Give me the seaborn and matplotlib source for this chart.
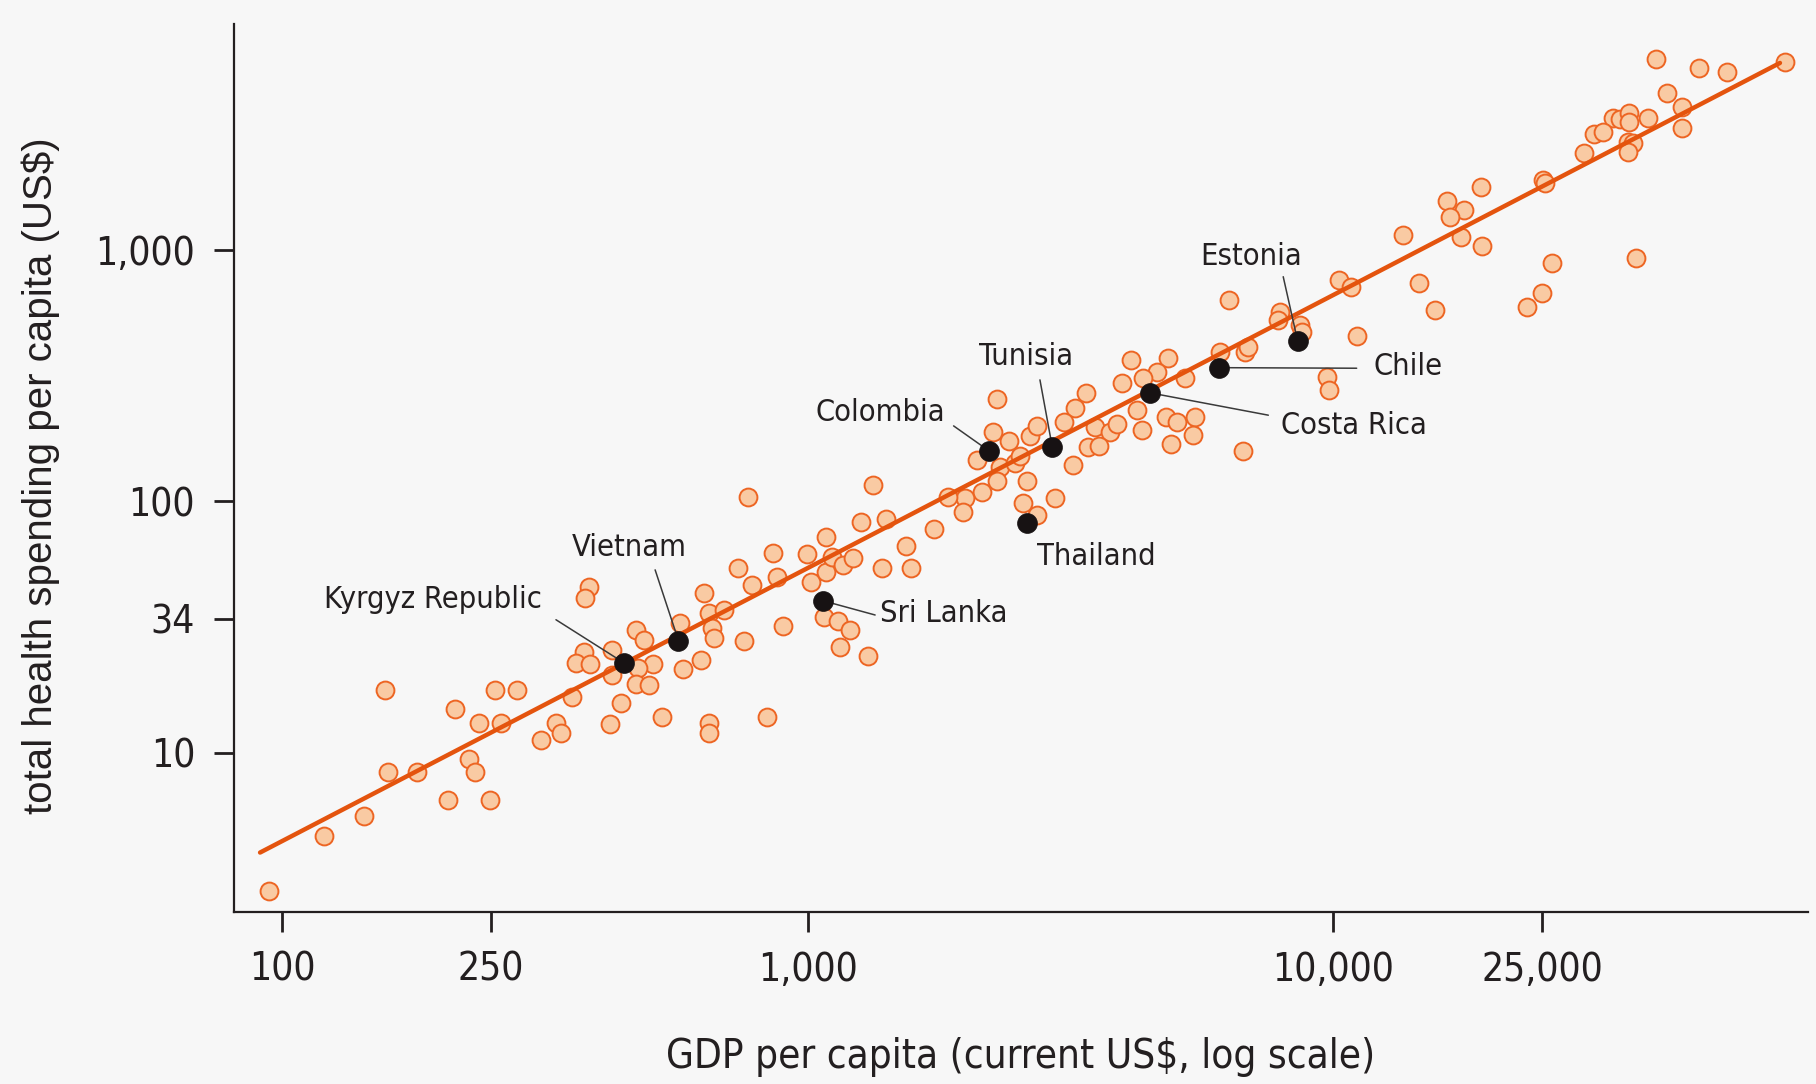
import matplotlib
matplotlib.use("Agg")
import matplotlib.pyplot as plt
from matplotlib import font_manager as fm
from matplotlib.ticker import NullLocator, FixedLocator, FixedFormatter
import pandas as pd
import seaborn as sns

# ---------------------------------------------------------------------------
# Data: GDP per capita (current US$) vs total health spending per capita (US$)
# ---------------------------------------------------------------------------
gdp_per_capita = [
    94.5, 120, 143, 157, 159, 181, 207, 213, 227, 233, 237, 249, 254, 261, 280,
    311, 332, 339, 356, 420, 442, 529, 650, 649,
    772, 1334, 384, 377, 635, 737, 784, 861, 876, 997, 1014, 1083, 1083, 1112,
    1170, 1223, 1264, 1408, 1384, 1539, 1574,
    650, 692, 657, 664, 572, 757, 899, 471, 489, 424, 375, 363, 386, 509, 475,
    627, 579, 424, 472, 500, 837, 1075, 1142, 1205, 1153, 1302,
    13610, 10280, 10820, 14580, 15640, 6341, 7930, 7870, 8652, 8716, 11095,
    9727, 9840, 6095, 6800, 6900, 5229, 4860, 4121, 4618, 4344, 3962, 4231,
    4325, 4811, 5041, 5470, 5423, 4912, 6750, 3388, 3228, 3077, 3524, 3763,
    3886, 3422, 3592, 3205, 2291, 2258, 2421, 2651, 2731, 2104, 2324, 2483,
    2537, 2297, 2613, 2145, 1994, 1853, 1974, 2958, 2567, 2731, 1741,
    41180, 49770, 56140, 72460, 43150, 46070, 46070, 34150, 35160, 36620,
    36620, 39810, 31390, 32690, 30040, 36460, 37270, 36460, 25130, 25320,
    19130, 16460, 17780, 16700, 17530, 19190, 26080, 37720, 24950, 23370,
]
health_spending = [
    2.80, 4.66, 5.59, 17.8, 8.35, 8.35, 6.48, 14.9, 9.40, 8.35, 13.1, 6.48, 17.8, 13.1, 17.8,
    11.2, 13.1, 12.0, 16.6, 13.0, 15.8, 13.9, 13.1, 12.0,
    104, 116, 45.5, 41.1, 43.3, 54.1, 46.4, 62.5, 50.1, 61.7, 47.9, 71.9, 52.5, 60.2,
    55.8, 59.3, 82.9, 84.8, 54.1, 66.4, 54.1,
    35.8, 36.9, 31.2, 28.5, 32.7, 27.9, 32.0, 30.7, 28.1, 25.6, 25.2, 22.7, 22.5, 22.5, 21.6,
    23.4, 21.5, 20.4, 18.7, 18.6, 13.9, 34.7, 33.5, 30.7, 26.2, 24.2,
    1147, 760, 712, 741, 577, 632, 568, 527, 503, 473, 455,
    313, 276, 394, 394, 410, 309, 371, 365, 328, 309, 296, 231,
    192, 217, 207, 216, 184, 169, 159, 270, 235, 206, 198, 189,
    203, 165, 166, 139, 255, 189, 174, 182, 199, 146, 137, 142,
    151, 120, 120, 109, 103, 104, 90.9, 103, 98.2, 88.2, 77.4,
    5754, 5284, 5122, 5583, 4204, 3697, 3050, 3343, 3313, 3519,
    3240, 3343, 2894, 2956, 2439, 2698, 2658, 2462, 1899, 1842,
    1776, 1571, 1443, 1357, 1129, 1037, 885, 932, 673, 592,
]

highlight_countries = ["Kyrgyz Republic", "Vietnam", "Sri Lanka", "Thailand",
                       "Colombia", "Tunisia", "Costa Rica", "Chile", "Estonia"]
highlight_gdp = [448, 568, 1069, 2613, 2215, 2923, 4485, 6069, 8566]
highlight_health = [22.7, 27.9, 40.2, 82.2, 158.6, 164, 270, 340, 434]

# fitted log-log trend line (end points)
fit_gdp = [90.8, 70900]
fit_health = [4.0, 5546]

x_ticks = [100, 250, 1000, 10000, 25000]
x_tick_labels = ["100", "250", "1,000", "10,000", "25,000"]
y_ticks = [10, 34, 100, 1000]
y_tick_labels = ["10", "34", "100", "1,000"]

# ---------------------------------------------------------------------------
# Label placement (offset points from each highlighted marker)
#   ha, text offset, leader-line far end (None = no leader)
# ---------------------------------------------------------------------------
label_layout = {
    "Kyrgyz Republic": ("right", (-59.3, 45.6), (-49.2, 31.2)),
    "Vietnam":         ("center", (-35.5, 66.7), (-16.8, 50.9)),
    "Sri Lanka":       ("left", (41.3, -8.9), (37.7, -10.3)),
    "Thailand":        ("left", (7.4, -24.7), None),
    "Colombia":        ("right", (-31.7, 27.4), (-25.5, 18.0)),
    "Tunisia":         ("center", (-18.6, 65.2), (-8.9, 48.5)),
    "Costa Rica":      ("left", (94.3, -23.3), (85.2, -16.1)),
    "Chile":           ("left", (110.9, 0.5), (99.1, -0.4)),
    "Estonia":         ("center", (-33.6, 60.7), (-10.4, 46.3)),
}

# ---------------------------------------------------------------------------
# Styling
# ---------------------------------------------------------------------------
sns.set_theme(style="ticks")

BG = "#f7f7f7"
INK = "#231f20"
PEACH = "#f9caa3"
ORANGE_EDGE = "#ed6523"
LINE_ORANGE = "#e4540e"

font_names = {f.name for f in fm.fontManager.ttflist}


def condensed_props(size):
    if "Liberation Sans Narrow" in font_names:
        return fm.FontProperties(family=["Liberation Sans Narrow", "DejaVu Sans"], size=size)
    has_dv_cond = any(f.name == "DejaVu Sans" and str(f.stretch) == "condensed"
                      for f in fm.fontManager.ttflist)
    if has_dv_cond:
        return fm.FontProperties(family=["DejaVu Sans"], stretch="condensed", size=size * 0.9)
    return fm.FontProperties(family=["Roboto", "DejaVu Sans"], size=size * 0.9)


fp_tick = condensed_props(31)
fp_xlabel = condensed_props(32.2)
fp_note = condensed_props(24.5)
fp_ylabel = fm.FontProperties(family=["Liberation Sans", "DejaVu Sans"], size=29)

W, H = 1816, 1084
DPI = 100
fig = plt.figure(figsize=(W / DPI, H / DPI), dpi=DPI)
fig.patch.set_facecolor(BG)

ax_left, ax_right, ax_top, ax_bottom = 234, 1808, 24, 912
ax = fig.add_axes([ax_left / W, 1 - ax_bottom / H,
                   (ax_right - ax_left) / W, (ax_bottom - ax_top) / H])
ax.set_facecolor(BG)
ax.set_xscale("log")
ax.set_yscale("log")

points = pd.DataFrame({"gdp": gdp_per_capita, "health": health_spending})
highlights = pd.DataFrame({"country": highlight_countries,
                           "gdp": highlight_gdp, "health": highlight_health})
trend = pd.DataFrame({"gdp": fit_gdp, "health": fit_health})

sns.scatterplot(data=points, x="gdp", y="health", ax=ax, s=165,
                color=PEACH, edgecolor=ORANGE_EDGE, linewidth=1.4, zorder=2)
sns.lineplot(data=trend, x="gdp", y="health", ax=ax, color=LINE_ORANGE,
             linewidth=3.2, zorder=3)
sns.scatterplot(data=highlights, x="gdp", y="health", ax=ax, s=205,
                color="#171213", edgecolor="#171213", linewidth=0.5, zorder=5)

# annotations
for _, row in highlights.iterrows():
    ha, txt_off, line_off = label_layout[row["country"]]
    if line_off is not None:
        ax.annotate("", xy=(row["gdp"], row["health"]), xytext=line_off,
                    textcoords="offset points",
                    arrowprops=dict(arrowstyle="-", color="#3a3a3a", lw=1.1,
                                    shrinkA=0, shrinkB=0),
                    zorder=4)
    ax.annotate(row["country"], xy=(row["gdp"], row["health"]), xytext=txt_off,
                textcoords="offset points", ha=ha, va="center",
                fontproperties=fp_note, color=INK, zorder=6)

# axes limits and ticks
ax.set_xlim(81.0, 80170)
ax.set_ylim(2.32, 7925)
ax.xaxis.set_major_locator(FixedLocator(x_ticks))
ax.xaxis.set_major_formatter(FixedFormatter(x_tick_labels))
ax.yaxis.set_major_locator(FixedLocator(y_ticks))
ax.yaxis.set_major_formatter(FixedFormatter(y_tick_labels))
ax.xaxis.set_minor_locator(NullLocator())
ax.yaxis.set_minor_locator(NullLocator())

# only the left and bottom axis lines are drawn
ax.spines["top"].set_visible(False)
ax.spines["right"].set_visible(False)
for side in ("left", "bottom"):
    ax.spines[side].set_linewidth(1.6)
    ax.spines[side].set_color(INK)

# outward tick marks with condensed tick labels
ax.tick_params(axis="both", which="major", direction="out", length=14.5,
               width=2.0, color=INK, labelcolor=INK, pad=13.5,
               bottom=True, left=True, top=False, right=False)
for tick in ax.xaxis.get_major_ticks() + ax.yaxis.get_major_ticks():
    tick.label1.set_fontproperties(fp_tick)

ax.set_xlabel("GDP per capita (current US$, log scale)",
              fontproperties=fp_xlabel, color=INK)
ax.xaxis.label.set_va("center")
ax.xaxis.set_label_coords(0.5, (ax_bottom - 1057) / (ax_bottom - ax_top))

ax.set_ylabel("total health spending per capita (US$)",
              fontproperties=fp_ylabel, color=INK)
ax.yaxis.label.set_va("center")
ax.yaxis.set_label_coords((41 - ax_left) / (ax_right - ax_left),
                          (ax_bottom - 475.5) / (ax_bottom - ax_top))

fig.savefig("out.png", dpi=DPI, facecolor=fig.get_facecolor())
